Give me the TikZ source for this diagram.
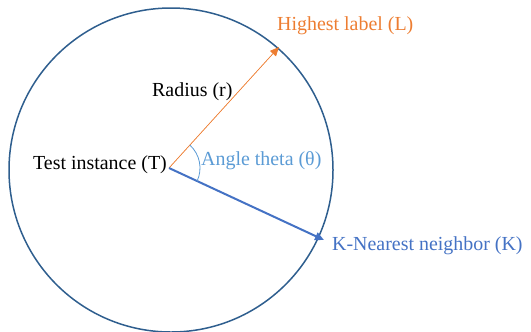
\documentclass[tikz,border=0pt]{standalone}
\usepackage{fontspec}
\setmainfont{Liberation Serif}
\usepackage{xcolor}
\usepackage{tikz}
\usetikzlibrary{positioning,arrows.meta}

\definecolor{ringblue}{RGB}{46,94,142}
\definecolor{hiorange}{RGB}{237,125,49}
\definecolor{knnblue}{RGB}{68,114,196}
\definecolor{angblue}{RGB}{91,155,213}

\begin{document}
\begin{tikzpicture}[
  x=1bp, y=-1bp, font=\fontsize{20}{24}\selectfont,
  >={Triangle[length=9bp,width=8bp]},
  lbl/.style={inner sep=0pt,anchor=west},
  ring/.style={draw=ringblue,line width=1.5bp},
  radarrow/.style={->,draw=hiorange,fill=hiorange,line width=0.7bp},
  knnarrow/.style={->,draw=knnblue,fill=knnblue,line width=2bp},
  angarc/.style={draw=angblue,line width=0.8bp}]
  \useasboundingbox (0,0) rectangle (531,331);
  % --- circle round the test instance ---
  \coordinate (c) at (171,170);
  \draw[ring] (c) circle[radius=162];
  \coordinate (T) at (169,168);
  \coordinate (L) at (279,47);
  \coordinate (K) at (324,240);
  % --- radius and nearest neighbour arrows ---
  \draw[radarrow] (T) -- (L);
  \draw[knnarrow] (T) -- (K);
  \draw[angarc] ([shift={(25.2:31)}]T) arc[start angle=25.2,end angle=-47.5,radius=31];
  % --- labels ---
  \node[lbl] (tl) at (33,165) {Test instance (T)};
  \node[lbl] (rl) at (152,92) {Radius (r)};
  \node[lbl,text=angblue] (al) at (201,161) {Angle theta (θ)};
  \node[lbl,text=hiorange] (hl) at (277,26) {Highest label (L)};
  \node[lbl,text=knnblue] (kl) at (332,246) {K-Nearest neighbor (K)};
\end{tikzpicture}
\end{document}
